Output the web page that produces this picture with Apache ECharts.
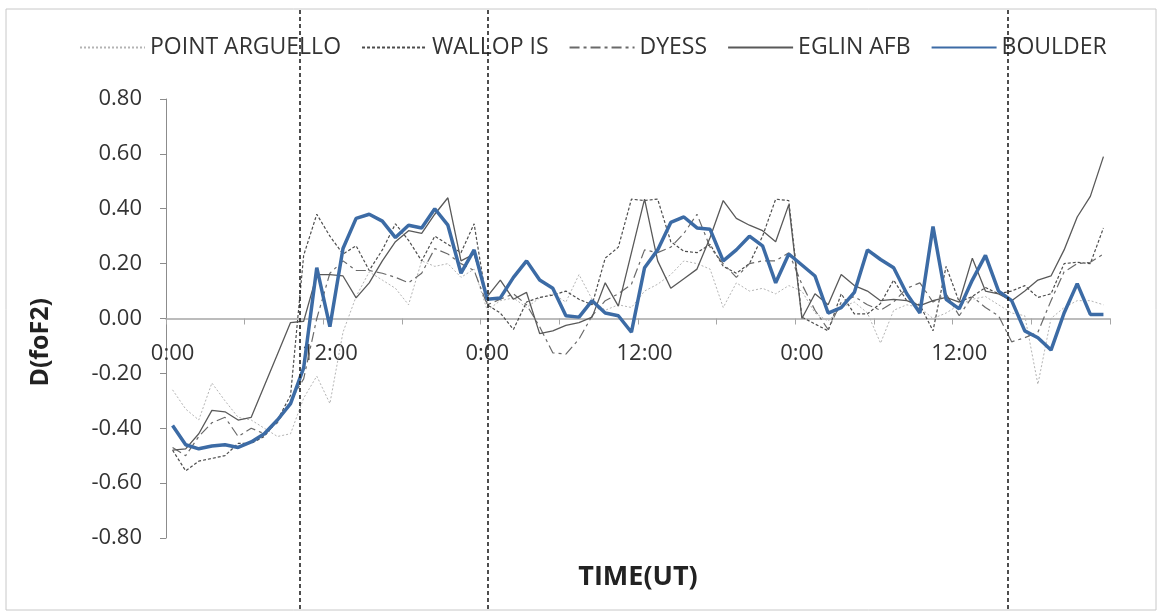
<!DOCTYPE html>
<html>
<head>
<meta charset="utf-8">
<script src="https://cdn.jsdelivr.net/npm/echarts@6/dist/echarts.min.js"></script>
<style>
  html, body { margin: 0; padding: 0; background: #fff; }
  #chart { width: 1157px; height: 613px; }
</style>
</head>
<body>
<div id="chart"></div>
<script>
// hourly categories, 3 days
const hours = Array.from({ length: 72 }, (_, i) => (i % 24) + ':00');

const yTicks = [-0.8, -0.6, -0.4, -0.2, 0, 0.2, 0.4, 0.6, 0.8];

// event markers (hours from start of axis)
const eventHours = [10.2, 24.55, 64.2];

const pointArguello = [
  -0.26, -0.33, -0.37, -0.235, -0.30, -0.36, -0.37, -0.40, -0.43, -0.42,
  -0.29, -0.21, -0.31, -0.05, 0.08, 0.17, 0.14, 0.11, 0.05, 0.21,
  0.19, 0.20, 0.15, 0.18, 0.03, 0.065, 0.075, 0.04, 0.075, 0.09,
  0.06, 0.16, 0.07, 0.03, 0.05, 0.04, 0.10, 0.125, 0.16, 0.21,
  0.20, 0.18, 0.04, 0.13, 0.10, 0.11, 0.09, 0.12, 0.10, 0.02,
  -0.01, 0.04, 0.06, 0.02, -0.09, 0.03, 0.05, 0.04, 0.0, 0.02,
  0.05, 0.07, 0.08, 0.05, 0.02, 0.01, -0.24, 0.0, 0.04, 0.065,
  0.065, 0.05
];

const wallopIs = [
  -0.48, -0.555, -0.52, -0.51, -0.50, -0.455, -0.455, -0.43, -0.37, -0.28,
  0.23, 0.38, 0.30, 0.235, 0.265, 0.175, 0.25, 0.345, 0.285, 0.21,
  0.30, 0.27, 0.24, 0.345, 0.05, 0.02, -0.04, 0.06, 0.077, 0.085,
  0.10, 0.07, 0.05, 0.22, 0.26, 0.435, 0.43, 0.435, 0.28, 0.245,
  0.24, 0.27, 0.19, 0.165, 0.20, 0.30, 0.435, 0.43, 0.005, -0.02,
  -0.045, 0.09, 0.017, 0.017, 0.055, 0.14, 0.065, 0.05, -0.045, 0.19,
  0.06, 0.08, 0.113, 0.09, 0.10, 0.12, 0.077, 0.09, 0.20, 0.205,
  0.20, 0.33
];

const dyess = [
  -0.47, -0.50, -0.43, -0.38, -0.36, -0.43, -0.40, -0.42, -0.38, -0.30,
  -0.22, 0.0, 0.165, 0.21, 0.175, 0.175, 0.165, 0.15, 0.13, 0.165,
  0.255, 0.235, 0.20, 0.175, 0.05, 0.07, 0.09, 0.05, -0.03, -0.125,
  -0.13, -0.075, 0.01, 0.065, 0.09, 0.125, 0.25, 0.24, 0.26, 0.31,
  0.38, 0.26, 0.20, 0.15, 0.20, 0.21, 0.21, 0.24, 0.125, 0.03,
  -0.04, 0.06, 0.08, 0.05, 0.03, 0.06, 0.11, 0.13, 0.06, 0.09,
  0.01, 0.08, 0.04, 0.01, -0.085, -0.07, -0.05, 0.065, 0.17, 0.20,
  0.205, 0.235
];

const eglinAfb = [
  -0.48, -0.475, -0.42, -0.335, -0.34, -0.37, -0.36, -0.245, -0.13, -0.015,
  -0.01, 0.16, 0.16, 0.155, 0.075, 0.13, 0.21, 0.28, 0.32, 0.31,
  0.38, 0.44, 0.21, 0.235, 0.08, 0.14, 0.07, 0.095, -0.055, -0.045,
  -0.025, -0.015, 0.005, 0.13, 0.045, 0.24, 0.435, 0.21, 0.11, 0.145,
  0.18, 0.295, 0.43, 0.365, 0.34, 0.32, 0.28, 0.415, 0.0, 0.09,
  0.05, 0.16, 0.12, 0.10, 0.065, 0.07, 0.065, 0.047, 0.065, 0.077,
  0.06, 0.22, 0.10, 0.09, 0.065, 0.10, 0.14, 0.155, 0.25, 0.37,
  0.445, 0.59
];

const boulder = [
  -0.39, -0.46, -0.475, -0.465, -0.46, -0.47, -0.45, -0.42, -0.37, -0.31,
  -0.18, 0.185, -0.03, 0.255, 0.365, 0.38, 0.355, 0.295, 0.34, 0.33,
  0.40, 0.34, 0.165, 0.25, 0.07, 0.075, 0.15, 0.21, 0.14, 0.11,
  0.01, 0.005, 0.065, 0.02, 0.01, -0.05, 0.185, 0.25, 0.35, 0.37,
  0.33, 0.325, 0.21, 0.25, 0.30, 0.265, 0.13, 0.235, 0.195, 0.155,
  0.02, 0.04, 0.095, 0.25, 0.215, 0.185, 0.09, 0.02, 0.335, 0.07,
  0.035, 0.14, 0.23, 0.10, 0.065, -0.045, -0.07, -0.115, 0.02, 0.127,
  0.015, 0.015
];

const FONT = '"Open Sans", sans-serif';
const chart = echarts.init(document.getElementById('chart'));

function thin(name, data, color, type, width) {
  return {
    name: name,
    type: 'line',
    data: data,
    symbol: 'none',
    lineStyle: { color: color, type: type, width: width },
    itemStyle: { color: color },
    z: 2
  };
}

// plot area: the x axis sits on the zero line, half way down
const plotTop = 99, plotBottom = 75, plotH = 613 - plotTop - plotBottom;

const option = {
  animation: false,
  backgroundColor: '#fff',
  textStyle: { fontFamily: FONT },
  graphic: [{
    type: 'rect',
    shape: { x: 6, y: 9, width: 1150, height: 601 },
    style: { fill: 'none', stroke: '#c8c8c8', lineWidth: 1 },
    silent: true
  }, {
    // y axis title (sits a little below the plot centre in the original)
    type: 'text',
    left: 28,
    top: 298,
    style: {
      text: 'D(foF2)',
      font: 'bold 25px ' + FONT,
      fill: '#222'
    },
    rotation: Math.PI / 2,
    silent: true
  }],
  legend: {
    top: 31,
    left: 74,
    itemWidth: 65,
    itemHeight: 12,
    itemGap: 20,
    itemStyle: { opacity: 0 },
    textStyle: { fontFamily: FONT, fontSize: 23, color: '#333' },
    data: ['POINT ARGUELLO', 'WALLOP IS', 'DYESS', 'EGLIN AFB', 'BOULDER']
  },
  grid: [
    { left: 166, right: 47, top: plotTop, bottom: plotBottom, containLabel: false, outerBoundsMode: 'none' },
    { left: 166, right: 47, top: 10, bottom: 4, containLabel: false, outerBoundsMode: 'none' }
  ],
  xAxis: [{
    type: 'category',
    data: hours,
    boundaryGap: true,
    position: 'bottom',
    offset: -plotH / 2,
    name: 'TIME(UT)',
    nameLocation: 'middle',
    nameGap: 245,
    nameMoveOverlap: false,
    nameTextStyle: { fontFamily: FONT, fontSize: 27, fontWeight: 'bold', color: '#222' },
    axisLine: { onZero: false, lineStyle: { color: '#a6a6a6', width: 1.5 } },
    axisTick: { show: true, interval: 5, length: 6, lineStyle: { color: '#a6a6a6' } },
    axisLabel: { interval: 11, margin: 24, fontFamily: FONT, fontSize: 22, color: '#333' },
    splitLine: { show: false }
  }, {
    type: 'value',
    gridIndex: 1,
    min: 0,
    max: hours.length,
    show: false
  }],
  yAxis: [{
    type: 'value',
    min: yTicks[0],
    max: yTicks[yTicks.length - 1],
    interval: 0.2,
    axisLine: { show: true, lineStyle: { color: '#8c8c8c', width: 1 } },
    axisTick: { show: true, length: 6, lineStyle: { color: '#8c8c8c' } },
    axisLabel: {
      margin: 24,
      fontFamily: FONT, fontSize: 22, color: '#333',
      formatter: v => v.toFixed(2)
    },
    splitLine: { show: false }
  }, {
    type: 'value',
    gridIndex: 1,
    min: 0,
    max: 1,
    show: false
  }],
  series: [
    thin('POINT ARGUELLO', pointArguello, '#b4b4b4', [2, 2], 1),
    thin('WALLOP IS', wallopIs, '#4d4d4d', [3, 2], 1.2),
    thin('DYESS', dyess, '#6a6a6a', [10, 4, 3, 4], 1.2),
    thin('EGLIN AFB', eglinAfb, '#595959', 'solid', 1.3),
    {
      name: 'BOULDER',
      type: 'line',
      data: boulder,
      symbol: 'none',
      lineStyle: { color: '#3c6ba5', width: 3.5 },
      itemStyle: { color: '#3c6ba5' },
      z: 3
    },
    {
      name: 'events',
      type: 'line',
      xAxisIndex: 1,
      yAxisIndex: 1,
      data: [],
      symbol: 'none',
      z: 5,
      markLine: {
        silent: true,
        symbol: 'none',
        label: { show: false },
        lineStyle: { color: '#222', type: [4, 3], width: 1.6 },
        data: eventHours.map(h => ({ xAxis: h }))
      }
    }
  ]
};

chart.setOption(option);
</script>
</body>
</html>
